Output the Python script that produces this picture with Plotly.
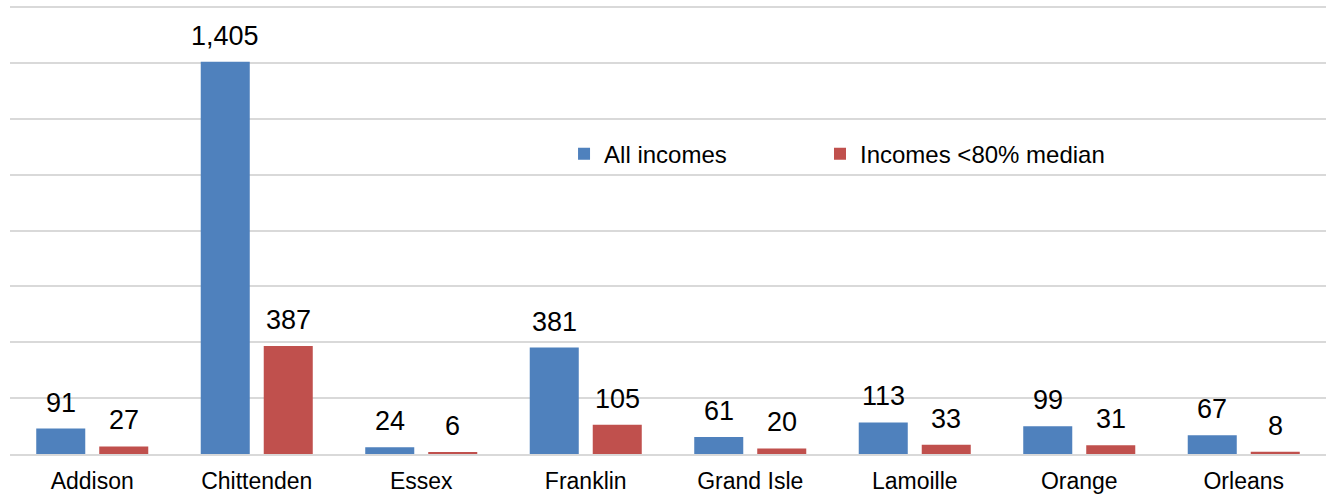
import plotly.graph_objects as go

counties = ["Addison", "Chittenden", "Essex", "Franklin", "Grand Isle", "Lamoille", "Orange", "Orleans"]
all_incomes = [91, 1405, 24, 381, 61, 113, 99, 67]
low_incomes = [27, 387, 6, 105, 20, 33, 31, 8]
series_names = ["All incomes", "Incomes <80% median"]
colors = ["#4F81BD", "#C0504D"]

FONT = "Liberation Sans, Arial, sans-serif"

fig = go.Figure()
fig.add_trace(go.Bar(
    x=counties, y=all_incomes, name=series_names[0],
    marker=dict(color=colors[0], line=dict(width=0)), offsetgroup="0", legend="legend",
))
fig.add_trace(go.Bar(
    x=counties, y=low_incomes, name=series_names[1],
    marker=dict(color=colors[1], line=dict(width=0)), offsetgroup="1", legend="legend2",
))

# value labels above bars
for i, c in enumerate(counties):
    for vals, xs in [(all_incomes, -0.5), (low_incomes, 0.5)]:
        v = vals[i]
        fig.add_annotation(
            x=c, y=v, text=f"{v:,}", showarrow=False, yanchor="middle",
            yshift=26, xshift=xs * 63,
            font=dict(family=FONT, size=27, color="#000000"),
        )

leg_common = dict(
    orientation="h", xanchor="left", y=0.665, yanchor="middle",
    font=dict(size=24, color="#000000"), bgcolor="rgba(0,0,0,0)", itemwidth=30,
)

fig.update_layout(
    width=1327, height=495,
    margin=dict(l=10, r=1, t=3, b=41),
    paper_bgcolor="white", plot_bgcolor="white",
    barmode="group", bargap=0.234, bargroupgap=0.222,
    font=dict(family=FONT, color="#000000"),
    legend=dict(x=0.421, **leg_common),
    legend2=dict(x=0.6155, **leg_common),
    showlegend=True,
)
fig.update_xaxes(
    showgrid=False, showline=True, linecolor="#d9d9d9", linewidth=1.5,
    ticks="", tickfont=dict(size=23, color="#000000"), ticklabelstandoff=6,
)
fig.update_yaxes(
    range=[0, 1615], tick0=0, dtick=200, showgrid=True, gridcolor="#d9d9d9", gridwidth=1.5,
    showticklabels=False, zeroline=False, showline=False,
)

fig.write_html("out.html", config={"displayModeBar": False},
               post_script="document.body.style.margin='0';")
